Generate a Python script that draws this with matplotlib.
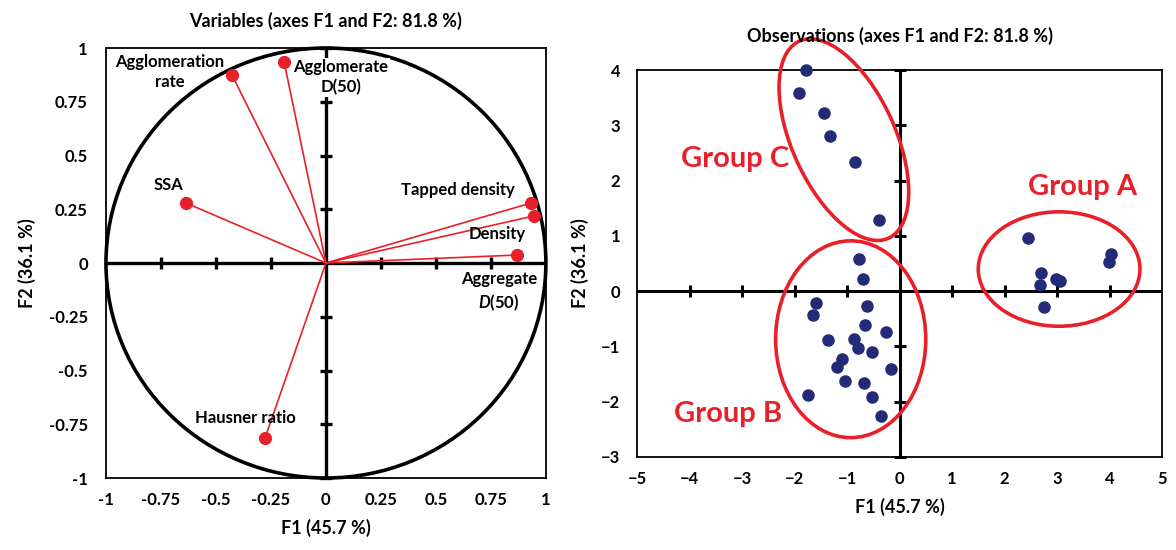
import numpy as np
import matplotlib.pyplot as plt
from matplotlib.patches import Ellipse

plt.rcParams['font.family'] = ['Lato', 'DejaVu Sans']
plt.rcParams['font.weight'] = 'bold'
plt.rcParams['mathtext.fontset'] = 'custom'
plt.rcParams['mathtext.it'] = 'Lato:italic:bold'
plt.rcParams['mathtext.rm'] = 'Lato:bold'

RED = '#e8202a'
NAVY = '#232a77'

# variables (loadings on F1 / F2)
var_names = ['Agglomeration\nrate', 'Agglomerate\nD(50)', 'SSA', 'Tapped density',
             'Density', 'Aggregate\n$\\mathit{D}$(50)', 'Hausner ratio']
var_f1 = [-0.427, -0.19, -0.636, 0.932, 0.945, 0.868, -0.277]
var_f2 = [0.874, 0.935, 0.279, 0.279, 0.219, 0.037, -0.814]
label_x = [-0.71, 0.068, -0.714, 0.60, 0.777, 0.786, -0.364]
label_y = [0.888, 0.865, 0.363, 0.34, 0.135, -0.135, -0.72]

# observations (scores on F1 / F2)
obs_f1 = [-1.785, -1.91, -1.43, -1.33, -0.84, -0.40,
          -0.775, -0.70, -1.60, -1.64, -0.615, -0.65, -0.25, -1.36, -0.87, -0.79,
          -0.53, -1.09, -1.19, -0.165, -1.03, -0.67, -1.75, -0.53, -0.36,
          2.44, 4.03, 3.99, 2.70, 2.68, 2.98, 3.06, 2.76]
obs_f2 = [4.0, 3.59, 3.22, 2.80, 2.33, 1.29,
          0.58, 0.22, -0.22, -0.43, -0.26, -0.62, -0.74, -0.89, -0.87, -1.02,
          -1.10, -1.23, -1.37, -1.40, -1.62, -1.66, -1.87, -1.92, -2.25,
          0.97, 0.68, 0.53, 0.325, 0.12, 0.22, 0.175, -0.28]

groups = ['Group C', 'Group B', 'Group A']
group_cx = [-1.06, -0.93, 3.04]
group_cy = [2.74, -0.87, 0.40]
group_w = [3.95, 2.86, 3.08]
group_h = [1.95, 3.56, 2.07]
group_ang = [-63.8, 0, 0]
group_lx = [-3.14, -3.26, 3.49]
group_ly = [2.39, -2.22, 1.88]

left_ticks = [-1, -0.75, -0.5, -0.25, 0, 0.25, 0.5, 0.75, 1]
left_ticklabels = ['-1', '-0.75', '-0.5', '-0.25', '0', '0.25', '0.5', '0.75', '1']

fig = plt.figure(figsize=(11.76, 5.5), dpi=100)

# ---------- correlation circle ----------
ax1 = fig.add_axes([0.0901, 0.1309, 0.3741, 0.7818])
ax1.set_xlim(-1, 1)
ax1.set_ylim(-1, 1)
ax1.set_xticks(left_ticks)
ax1.set_xticklabels(left_ticklabels)
ax1.set_yticks(left_ticks)
ax1.set_yticklabels(left_ticklabels)
ax1.tick_params(axis='x', length=0, labelsize=12, pad=10)
ax1.tick_params(axis='y', length=0, labelsize=12, pad=13)
for s in ax1.spines.values():
    s.set_linewidth(1.3)

ax1.add_patch(Ellipse((0, 0), 2, 2, fill=False, ec='black', lw=2.6, zorder=2, clip_on=False))
ax1.plot([-1, 1], [0, 0], color='black', lw=2.4, zorder=2)
ax1.plot([0, 0], [-1, 1], color='black', lw=2.4, zorder=2)
inner = [-0.75, -0.5, -0.25, 0.25, 0.5, 0.75]
ax1.plot(inner, [0] * len(inner), ls='none', marker='|', ms=9, mew=2.4, color='black', zorder=2)
yt = [-1, -0.75, -0.5, -0.25, 0.25, 0.5, 0.75, 1]
ax1.plot([0] * len(yt), yt, ls='none', marker='_', ms=9, mew=2.4, color='black', zorder=2, clip_on=False)

for x, y in zip(var_f1, var_f2):
    ax1.plot([0, x], [0, y], color=RED, lw=1.2, zorder=3)
ax1.plot(var_f1, var_f2, ls='none', marker='o', ms=8.5, color=RED, zorder=4)

for name, lx, ly in zip(var_names, label_x, label_y):
    bbox = None
    z = 5
    if name.startswith('Agglomerate'):
        # white box hides the zero axis behind the label, red line stays on top
        bbox = dict(facecolor='white', edgecolor='none', pad=1)
        z = 2.5
    ax1.text(lx, ly, name, ha='center', va='center', fontsize=12, fontweight='bold',
             linespacing=1.3, zorder=z, bbox=bbox)

ax1.set_title('Variables (axes F1 and F2: 81.8 %)', fontsize=13, fontweight='bold', pad=15)
ax1.set_xlabel('F1 (45.7 %)', fontsize=13, fontweight='bold', labelpad=8)
ax1.set_ylabel('F2 (36.1 %)', fontsize=13, fontweight='bold', labelpad=9)

# ---------- observations ----------
ax2 = fig.add_axes([0.5417, 0.1691, 0.4464, 0.7036])
ax2.set_xlim(-5, 5)
ax2.set_ylim(-3, 4)
ax2.set_xticks(range(-5, 6))
ax2.set_yticks(range(-3, 5))
ax2.tick_params(axis='x', length=0, labelsize=12, pad=10)
ax2.tick_params(axis='y', length=0, labelsize=12, pad=12)
for s in ax2.spines.values():
    s.set_linewidth(1.3)

ax2.plot([-5, 5], [0, 0], color='black', lw=2.2, zorder=2)
ax2.plot([0, 0], [-3, 4], color='black', lw=2.2, zorder=2)
xt = [-4, -3, -2, -1, 1, 2, 3, 4]
ax2.plot(xt, [0] * len(xt), ls='none', marker='|', ms=9, mew=2.2, color='black', zorder=2)
yt2 = [-3, -2, -1, 1, 2, 3, 4]
ax2.plot([0] * len(yt2), yt2, ls='none', marker='_', ms=9, mew=2.2, color='black', zorder=2, clip_on=False)

ax2.plot(obs_f1, obs_f2, ls='none', marker='o', ms=8, color=NAVY, zorder=4, clip_on=False)

for g, cx, cy, w, h, a, lx, ly in zip(groups, group_cx, group_cy, group_w, group_h,
                                       group_ang, group_lx, group_ly):
    ax2.add_patch(Ellipse((cx, cy), w, h, angle=a, fill=False, ec=RED, lw=2.6,
                          zorder=3, clip_on=False))
    ax2.text(lx, ly, g, color=RED, fontsize=21, fontweight='bold', ha='center', va='center')

ax2.set_title('Observations (axes F1 and F2: 81.8 %)', fontsize=13, fontweight='bold', pad=20)
ax2.set_xlabel('F1 (45.7 %)', fontsize=13, fontweight='bold', labelpad=8)
ax2.set_ylabel('F2 (36.1 %)', fontsize=13, fontweight='bold', labelpad=9)

fig.savefig('out.png', dpi=100)
